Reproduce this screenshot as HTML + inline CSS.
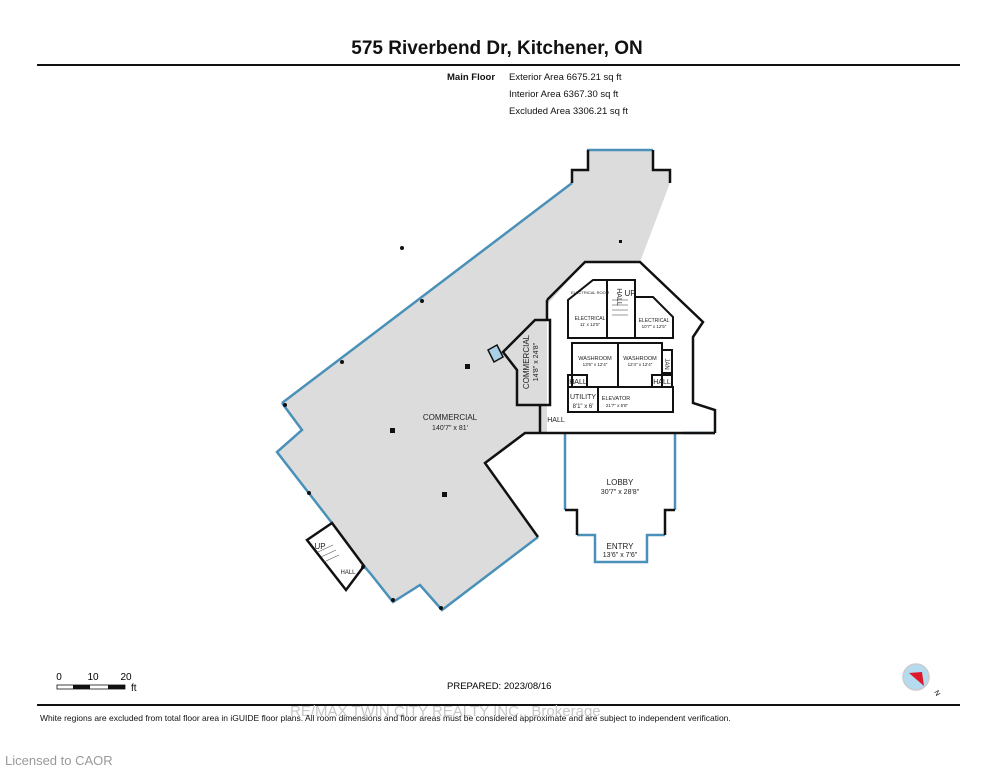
<!DOCTYPE html>
<html><head><meta charset="utf-8"><style>
html,body{margin:0;padding:0;background:#fff}
svg{display:block}
text{font-family:"Liberation Sans",Arial,sans-serif}
</style></head><body>
<svg width="995" height="768" viewBox="0 0 995 768" xmlns="http://www.w3.org/2000/svg">
<rect width="995" height="768" fill="#fff"/>
<text x="497" y="54" font-size="19" font-weight="bold" text-anchor="middle" fill="#111">575 Riverbend Dr, Kitchener, ON</text>
<line x1="37" y1="65" x2="960" y2="65" stroke="#111" stroke-width="2"/>
<text x="447" y="80" font-size="9.5" font-weight="bold" fill="#111">Main Floor</text>
<text x="509" y="80" font-size="9.5" fill="#111">Exterior Area 6675.21 sq ft</text>
<text x="509" y="97" font-size="9.5" fill="#111">Interior Area 6367.30 sq ft</text>
<text x="509" y="114" font-size="9.5" fill="#111">Excluded Area 3306.21 sq ft</text>

<polygon points="587,150 653,150 653,170 670,170 670,183 640,262 585,262 547,305 547,433 525,433 485,463 538,537 442,610 420,585 393,602 370,573 332,523 277,452 302,430 282,403 572,183 572,170 588,170" fill="#dcdcdc"/>
<g fill="none" stroke="#4a90b8" stroke-width="2.5">
<polyline points="282,403 572,183"/>
<polyline points="587,150 653,150"/>
<polyline points="282,403 302,430 277,452 332,523"/>
<polyline points="364,566 370,573 393,602 420,585 442,610 538,537"/>
<polyline points="565,433 565,510"/><polyline points="675,433 675,510"/>
<polyline points="577,535 595,535 595,562 647,562 647,535 665,535"/>
<polyline points="683,433 715,433"/>
</g>
<g fill="none" stroke="#111" stroke-width="2.5">
<polyline points="572,183 572,170 588,170 588,150"/>
<polyline points="653,150 653,170 670,170 670,183"/>
<polyline points="538,537 485,463 525,433 715,433"/>
<polyline points="547,300 585,262 640,262 703,322 693,337 693,403 715,410 715,433"/>
<polyline points="547,300 547,320"/>
<polyline points="565,510 577,510 577,535"/><polyline points="675,510 665,510 665,535"/>
<polyline points="540,405 540,433"/>
<polygon points="517,405 517,370 503,352 535,320 550,320 550,405"/>
<polygon points="332,523 307,540 346,590 364,566" fill="#fff"/>
</g>
<polygon points="488,350 497,345 503,357 494,362" fill="#a9cfe6" stroke="#111" stroke-width="1.5"/>
<g fill="none" stroke="#111" stroke-width="2">
<polygon points="593,280 607,280 607,338 568,338 568,300"/>
<rect x="607" y="280" width="28" height="58"/>
<polygon points="635,297 653,297 673,317 673,338 635,338"/>
<rect x="572" y="343" width="46" height="44"/>
<rect x="618" y="343" width="44" height="44"/>
<rect x="662" y="350" width="10" height="23"/>
<rect x="568" y="375" width="19" height="12"/>
<rect x="652" y="375" width="20" height="12"/>
<rect x="568" y="387" width="30" height="25"/>
<rect x="598" y="387" width="75" height="25"/>
</g>
<g stroke="#555" stroke-width="0.6">
<line x1="612" y1="300" x2="628" y2="300"/><line x1="612" y1="305" x2="628" y2="305"/><line x1="612" y1="310" x2="628" y2="310"/><line x1="612" y1="315" x2="628" y2="315"/>
<line x1="318" y1="552" x2="333" y2="545"/><line x1="321" y1="557" x2="336" y2="550"/><line x1="324" y1="562" x2="339" y2="555"/>
</g>
<g fill="#111">
<rect x="465" y="364" width="5" height="5"/><rect x="390" y="428" width="5" height="5"/><rect x="442" y="492" width="5" height="5"/><rect x="619" y="240" width="3" height="3"/>
<circle cx="402" cy="248" r="2"/><circle cx="422" cy="301" r="2"/><circle cx="342" cy="362" r="2"/><circle cx="285" cy="405" r="2"/><circle cx="309" cy="493" r="2"/><circle cx="393" cy="600" r="2"/><circle cx="441" cy="608" r="2"/><circle cx="363" cy="567" r="2"/>
</g>
<g fill="#222" text-anchor="middle">
<text x="450" y="420" font-size="8">COMMERCIAL</text>
<text x="450" y="430" font-size="7">140'7" x 81'</text>
<text x="529" y="362" font-size="8" transform="rotate(-90 529 362)">COMMERCIAL</text>
<text x="538" y="362" font-size="7" transform="rotate(-90 538 362)">14'8" x 24'8"</text>
<text x="620" y="485" font-size="8">LOBBY</text>
<text x="620" y="494" font-size="7">30'7" x 28'8"</text>
<text x="620" y="549" font-size="8">ENTRY</text>
<text x="620" y="557" font-size="7">13'6" x 7'6"</text>
<text x="556" y="422" font-size="7">HALL</text>
<text x="348" y="574" font-size="6">HALL</text>
<text x="320" y="549" font-size="8">UP</text>
<text x="590" y="320" font-size="5">ELECTRICAL</text><text x="590" y="326" font-size="4.5">11' x 12'5"</text>
<text x="654" y="322" font-size="5">ELECTRICAL</text><text x="654" y="328" font-size="4.5">10'7" x 12'5"</text>
<text x="590" y="294" font-size="4">ELECTRICAL ROOM</text>
<text x="595" y="360" font-size="5.5">WASHROOM</text><text x="595" y="366" font-size="4.5">13'6" x 12'4"</text>
<text x="640" y="360" font-size="5.5">WASHROOM</text><text x="640" y="366" font-size="4.5">12'4" x 12'4"</text>
<text x="630" y="296" font-size="8">UP</text>
<text x="621" y="293" font-size="7" transform="rotate(90 617 293)">HALL</text>
<text x="667" y="362" font-size="6" transform="rotate(90 665 362)">JAN</text>
<text x="578" y="384" font-size="7">HALL</text>
<text x="662" y="384" font-size="7">HALL</text>
<text x="583" y="399" font-size="7">UTILITY</text><text x="583" y="408" font-size="6">8'1" x 6'</text>
<text x="616" y="400" font-size="5.5">ELEVATOR</text><text x="617" y="407" font-size="4.5">21'7" x 5'8"</text>
</g>

<text x="59" y="680" font-size="10" text-anchor="middle">0</text>
<text x="93" y="680" font-size="10" text-anchor="middle">10</text>
<text x="126" y="680" font-size="10" text-anchor="middle">20</text>
<rect x="57" y="685" width="68" height="4" fill="#fff" stroke="#111" stroke-width="0.8"/>
<rect x="73" y="685" width="17" height="4" fill="#111"/><rect x="108" y="685" width="17" height="4" fill="#111"/>
<text x="131" y="691" font-size="10">ft</text>
<text x="447" y="689" font-size="9.5">PREPARED: 2023/08/16</text>
<circle cx="916" cy="677" r="13" fill="#b5dbf0" stroke="#ccc" stroke-width="1.5"/>
<polygon points="909,673 922,672 924,686" fill="#e0192a"/>
<text x="934" y="692" font-size="7" transform="rotate(60 934 692)">N</text>
<line x1="37" y1="705" x2="960" y2="705" stroke="#111" stroke-width="2"/>
<text x="290" y="716" font-size="15" fill="#c8c8c8">RE/MAX TWIN CITY REALTY INC., Brokerage</text>
<text x="40" y="721" font-size="8.5" fill="#111">White regions are excluded from total floor area in iGUIDE floor plans. All room dimensions and floor areas must be considered approximate and are subject to independent verification.</text>
<text x="5" y="765" font-size="13" fill="#999">Licensed to CAOR</text>
</svg>
</body></html>
